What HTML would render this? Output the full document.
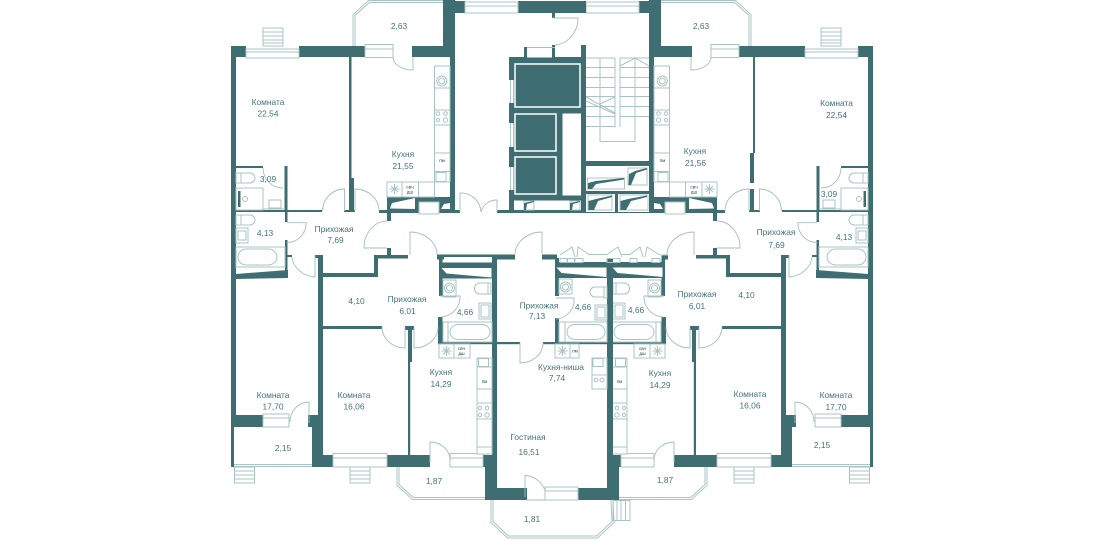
<!DOCTYPE html>
<html lang="ru"><head><meta charset="utf-8"><title>План этажа</title>
<style>
html,body{margin:0;padding:0;background:#fff;width:1105px;height:540px;overflow:hidden}
svg{display:block}
.w{fill:#3f6e72}
.l{fill:none;stroke:#a9c4c4;stroke-width:1}
.f{fill:#fff;stroke:#a9c4c4;stroke-width:1}
.d{fill:none;stroke:#a3bfbf;stroke-width:.9}
.b{fill:none;stroke:#a9c4c4;stroke-width:3}
.bi{fill:none;stroke:#fff;stroke-width:1}
text{font-family:"Liberation Sans","Noto Sans CJK JP",sans-serif;font-size:8.4px;fill:#44737a;text-anchor:middle}
.s{font-size:3.6px;font-weight:bold}
</style></head><body>
<svg width="1105" height="540" viewBox="0 0 1105 540" xmlns="http://www.w3.org/2000/svg">
<defs>
<g id="half">
<!-- walls -->
<g class="w">
<rect x="231" y="46" width="15" height="11"/><rect x="299" y="46" width="66" height="11"/><rect x="412" y="46" width="38" height="11"/>
<rect x="231" y="46" width="5" height="369"/><rect x="231" y="415" width="32" height="12"/><rect x="231" y="427" width="3" height="40"/>
<rect x="236" y="210" width="86" height="2"/><rect x="344" y="210" width="11" height="2"/>
<rect x="379" y="210" width="12" height="3"/><rect x="387" y="197" width="68" height="13"/><rect x="387" y="212" width="4" height="9"/>
<rect x="391" y="210" width="69" height="3"/><rect x="450" y="46" width="5" height="167"/>
<rect x="443" y="0" width="12" height="46"/><rect x="443" y="1" width="22" height="12"/><rect x="518" y="1" width="35" height="12"/>
<rect x="387" y="248" width="4" height="7"/><rect x="375" y="255" width="33" height="3.5"/><rect x="374" y="255" width="4" height="22"/>
<rect x="323" y="273" width="55" height="4"/><rect x="318" y="255" width="5" height="212"/><rect x="315" y="255" width="8" height="3"/>
<rect x="308" y="415" width="15" height="12"/><rect x="312" y="427" width="11" height="40"/>
<rect x="323" y="326" width="59" height="3"/><rect x="405" y="326" width="9" height="4"/><rect x="408" y="328" width="4" height="34"/><rect x="408" y="362" width="2.2" height="93"/>
<rect x="323" y="455" width="10" height="12"/><rect x="387" y="455" width="43" height="12"/>
<rect x="483" y="455" width="14" height="12"/><rect x="485" y="467" width="12" height="33"/><rect x="492" y="258" width="5" height="232"/><rect x="485" y="488" width="42" height="12"/>
<rect x="439" y="256" width="3.500" height="40"/><rect x="438" y="317" width="4.500" height="25"/><rect x="438" y="342" width="54" height="2.2"/>
<polygon points="236,274 288,270 288,278 236,279"/>
<rect x="285" y="240" width="2.500" height="37"/><rect x="285" y="212" width="2.500" height="10"/><rect x="285" y="255" width="7" height="2"/><rect x="284.500" y="166" width="3" height="45"/>
<rect x="236" y="166" width="27" height="2"/>
</g>
<!-- kitchen bottom shaft cutouts -->
<polygon points="390,208.500 392,203 415,198 415,209" fill="#fff"/>
<rect x="419" y="202" width="20" height="12" class="f"/>
<polygon points="441,209 444,204 450,203 450,209" fill="#fff"/>
<!-- windows -->
<path fill="#fff" d="M248 46h49v3h-49zM367 44h24v3h-24zM465 450h-0"/>
<path class="f" d="M246 49h53v9h-53zM246 52h53M365 44.500h28v13h-28zM365 49h28M263 414h26v13h-26zM263 418h26M333 453.500h54v13.500h-54zM333 458h54M450 453.500h33v13.500h-33zM450 458h33"/>
<path class="f" d="M465 2h53v11h-53zM465 6h53"/>
<!-- balconies -->
<polyline class="b" points="354,46 354,15 369,1.500 443,1.500"/><polyline class="bi" points="354,46 354,15 369,1.500 443,1.500"/>
<polyline class="b" points="398,467 398,485 413,498.500 485,498.500"/><polyline class="bi" points="398,467 398,485 413,498.500 485,498.500"/>
<path class="b" d="M234 465.500H312"/><path class="bi" d="M234 465.500H312"/>
<!-- outside stairs -->
<path class="l" d="M263 28h20v18h-20zM263 32h20M263 36h20M263 40h20M263 43h20"/>
<path class="l" d="M234.500 467h20v16h-20zM234.500 471h20M234.500 475h20M234.500 479h20"/>
<path class="l" d="M350 467h20v16h-20zM350 471h20M350 475h20M350 479h20"/>
<!-- doors -->
<path class="d" d="M413 57V70A20 13 0 0 1 393 57M344.500 211V189A22 22 0 0 0 322.500 211M355 211V189A24 22 0 0 1 379 211M287 222.700H306A19 19 0 0 1 287 242.500M263 168A20 20 0 0 0 283 188M387 248H364A23 27 0 0 1 387 221M410 255V232A27 23 0 0 1 437 255M315 255V277A25 22 0 0 1 292 257M405 327V348A23 21 0 0 1 382 327M414 327V348A24 21 0 0 0 438 327M440 296H460A20 20 0 0 1 441 317M430 463V442A20 18 0 0 1 450 460M309 423V402A19 20 0 0 0 290 422"/>
<!-- kitchen top -->
<path class="f" d="M434.500 66H450V182H434.500z"/><path class="l" d="M434.500 88H450M434.500 110H450M434.500 125H450M434.500 153H450M434.500 171.500H450"/>
<rect x="387" y="182" width="47.500" height="15" class="f"/><path class="l" d="M402 182V197M418.500 182V197"/>
<circle cx="441.700" cy="81" r="5" class="l"/><circle cx="441.700" cy="81" r="3" class="l"/>
<circle cx="438" cy="113.500" r="1.800" class="l"/><circle cx="445.500" cy="113.500" r="1.800" class="l"/><circle cx="438" cy="120" r="1.600" class="l"/><circle cx="445.500" cy="120" r="2.200" class="l"/>
<rect x="436" y="172.500" width="10" height="9" class="l"/>
<path class="l" d="M394.500 184v10M389.500 189h10M391 186l7 6M391 192l7-6"/>
<!-- bathrooms left -->
<path class="l" d="M236 173h5v10h-5zM241 173h9a5 5 0 0 1 0 10h-9M236 188h27v22h-27zM263 209h22M269 200h12v8h-12zM236 215h5v10h-5zM241 215h9a5 5 0 0 1 0 10h-9M236 228h12v15h-12zM238 231h8v9h-8zM236 247h49v20h-49zM246 249h22a9 8 0 0 1 9 8a9 8 0 0 1 -9 8h-22a8 8 0 0 1 -8 -8a8 8 0 0 1 8 -8z"/>
<rect x="238" y="191" width="2.500" height="16" class="w"/><circle cx="245" cy="199" r="2.500" class="l"/>
<!-- kitchen lower -->
<path class="f" d="M439 344H470V358H439zM477 358H492V454H477z"/>
<path class="l" d="M454 344V358M477 367H492M477 389H492M477 403H492M477 419H492M477 447H492M477 454H483M477 358V454"/>
<rect x="478.500" y="358.500" width="10" height="8" class="l"/>
<circle cx="480" cy="408" r="1.600" class="l"/><circle cx="487" cy="408" r="1.800" class="l"/><circle cx="480" cy="415" r="1.600" class="l"/><circle cx="487" cy="415" r="2.200" class="l"/>
<path class="l" d="M446.500 346v10M441.500 351h10M443 347.500l7 7M443 354.500l7-7"/>
<!-- bath lower -->
<path class="l" d="M443 322H492V342H443zM448 322V342M458 324.500h24a8 7.500 0 0 1 8 7.500a8 7.500 0 0 1 -8 7.500h-24a8 7.500 0 0 1 -8 -7.500a8 7.500 0 0 1 8 -7.500zM488 283h3v11h-3zM488 283h-8a5.500 5.500 0 0 0 0 11h8M443 280h13v17h-13zM479 303h12v16h-12zM481 305h8v12h-8z"/>
<circle cx="449.500" cy="288" r="5" class="l"/><circle cx="449.500" cy="288" r="3" class="l"/>
</g>
<g id="wedge"><rect x="0" y="0" width="52" height="16" class="w"/><polygon points="0,5.500 50,5.500 50,15 5,11" fill="#fff"/></g>
</defs>

<use href="#half"/>
<use href="#half" transform="translate(1104,0) scale(-1,1)"/>

<!-- corridor / central walls -->
<g class="w">
<rect x="349" y="57" width="2.500" height="121"/><rect x="349" y="178" width="5" height="34"/>
<rect x="753" y="57" width="2" height="96"/><rect x="750" y="153" width="4" height="30"/><rect x="750" y="189" width="4" height="23"/>
<rect x="497" y="210" width="150" height="3"/>
<rect x="437" y="254.500" width="78" height="5"/><rect x="542" y="254.500" width="15" height="5"/><rect x="662" y="254.500" width="6" height="5"/>
<rect x="555" y="262" width="110" height="5"/><rect x="555" y="258" width="4" height="38"/><rect x="555" y="318" width="4" height="24"/>
<rect x="607" y="258" width="6" height="232"/>
<rect x="497" y="342" width="23" height="2.200"/><rect x="543" y="342" width="64" height="2.200"/>
<rect x="578" y="488" width="40" height="12"/><rect x="613" y="455" width="5" height="45"/>
<rect x="553" y="1" width="33" height="12"/>
<rect x="552" y="13" width="3" height="5"/><rect x="552" y="45" width="3" height="13"/>
<rect x="509" y="57" width="77" height="6"/><rect x="581" y="45" width="5" height="168"/>
<rect x="509" y="58" width="5" height="22"/><rect x="509" y="103" width="5" height="20"/><rect x="509" y="147" width="5" height="20"/><rect x="509" y="190" width="5" height="20"/>
<rect x="514" y="63" width="67" height="137"/>
<rect x="514" y="198" width="67" height="3"/>
<rect x="586" y="161" width="63" height="5"/><rect x="586" y="166" width="63" height="47"/>
</g>
<path d="M515 64h65v43h-65zM515 114h41v37h-41zM515 157h41v37h-41z" style="fill:#3f6e72;stroke:#fff;stroke-width:1.500"/>
<rect x="562.500" y="113.500" width="18.500" height="82" fill="#fff"/>
<rect x="514" y="200.500" width="67" height="9.500" fill="#fff"/>
<path class="d" d="M510.500 80V103M510.500 123V147M510.500 167V190M513.500 80V103M513.500 123V147M513.500 167V190"/>
<rect x="526" y="48.500" width="26" height="9" fill="#fff"/><path class="d" d="M524 47.500H555"/><rect x="524" y="47" width="3" height="11" class="w"/>
<path class="f" d="M524 201h10v9h-10zM570 201h10v9h-10z"/><polygon points="524,210 524,203 534,201 534,202 527,204 526,210" fill="#3f6e72"/><polygon points="570,210 570,203 580,201 580,202 573,204 572,210" fill="#3f6e72"/>
<path class="d" d="M553 18H578A25 27 0 0 1 555 45"/>
<rect x="460.500" y="209" width="36" height="5" fill="#fff"/>
<path class="d" d="M460 212V193A20 20 0 0 1 481 212M497 212V200A16 16 0 0 0 481 212"/>

<!-- stairs -->
<rect x="586" y="58" width="63" height="103" fill="#fff"/>
<path class="l" d="M586 58H615M586 67.500H615M586 77.500H615M586 87.500H615M586 96.500H615M586 106.500H615M586 116.500H615M586 126.500H615M600 58V141.500H635V58M615 58V127M620 58V127M620 58H649M620 67.500H649M620 77.500H649M620 87.500H649M620 96.500H649M620 106.500H649M620 116.500H649M586 97L615 113M586 101L615 114M600 104L615 97M620 66L635 58L649 66"/>

<!-- stair shafts -->
<path fill="#fff" d="M586 166h63v25h-63zM586 194h29v18h-29zM618 194h31v18h-31z"/>
<path class="l" d="M587.500 178h37v11h-37zM628 168h19v17h-19zM588 195h24v15h-24zM620 195h28v15h-28z"/>
<polygon points="588,189 588,183 596,181 624,178 624,179.500 596,184 592,189" fill="#3f6e72"/>
<polygon points="628.500,185 629,174 635,171 647,168 647,169.500 636,173 631,185" fill="#3f6e72"/>
<polygon points="588.500,210 588.500,201 596,199 612,195.500 612,197 598,201 594,210" fill="#3f6e72"/>
<polygon points="620.500,210 620.500,201 628,199 647,195.500 647,197 631,201 626,210" fill="#3f6e72"/>

<!-- bathroom top shafts -->
<rect x="444" y="257" width="48" height="5" fill="#fff"/>
<use href="#wedge" transform="translate(441.500,262.500)"/>
<use href="#wedge" transform="translate(556.500,262)"/>
<use href="#wedge" transform="translate(612.500,262)"/>
<path class="l" d="M560 255L572 247L575 257M577 257L578 247L589 254.500H607L618 247L622 257M622 254.500H630L640 247L643 257M645 257L647 247L660 255H668"/>
<path class="l" d="M560 258.500h7v4h-7zM567.500 258.500h7v4h-7zM575 258.500h8v4h-8zM607 258.500h13v4h-13zM630 258.500h7v4h-7zM652 258.500h8v4h-8z"/>
<path class="d" d="M556 298H574A19 19 0 0 1 556 319"/>
<!-- studio bathroom -->
<path class="l" d="M559 322H607V342H559zM565 322V342M575 324.500h22a8 7.500 0 0 1 8 7.500a8 7.500 0 0 1 -8 7.500h-22a8 7.500 0 0 1 -8 -7.500a8 7.500 0 0 1 8 -7.500zM604 287h3v11h-3zM604 287h-9a5 5 0 0 0 0 10h9M559 279h13v15h-13zM595 305h12v15h-12zM597 307h8v11h-8z"/>
<circle cx="565.500" cy="287" r="5" class="l"/><circle cx="565.500" cy="287" r="3" class="l"/>
<!-- studio kitchen -->
<path class="f" d="M555 344H579V358H555zM592 358H607V389H592z"/>
<path class="l" d="M570 344V358M592 375H607"/>
<rect x="593" y="358.500" width="10" height="8" class="l"/>
<circle cx="596" cy="380" r="1.800" class="l"/><circle cx="602" cy="380" r="2" class="l"/>
<path class="l" d="M562.500 346v10M557.500 351h10M559 347.500l7 7M559 354.500l7-7"/>
<!-- entry & balcony doors -->
<path class="d" d="M542 254V232A27 23 0 0 0 515 254M520 343V363A23 20 0 0 0 543 343M527 500H546M525 475.500V497M525 475.500A22 22 0 0 1 546 496"/>
<path class="f" d="M545 487h33v13h-33zM545 491h33"/>
<!-- centre balcony -->
<polyline class="b" points="492,500 492,522 508,537 597,537 613,522 612,500"/><polyline class="bi" points="492,500 492,522 508,537 597,537 613,522 612,500"/>
<path class="l" d="M613 500.500h17v20h-17zM617 500.500v20M621 500.500v20M625.500 500.500v20"/>

<!-- labels -->
<text x="268" y="105">Комната</text><text x="268" y="116.500">22,54</text>
<text x="399" y="29">2,63</text>
<text x="403" y="157">Кухня</text><text x="403" y="169">21,55</text>
<text x="268" y="182">3,09</text><text x="265" y="236">4,13</text>
<text x="334" y="232">Прихожая</text><text x="335.500" y="243">7,69</text>
<text x="701" y="29">2,63</text>
<text x="695" y="154">Кухня</text><text x="695.500" y="166">21,56</text>
<text x="836.500" y="106">Комната</text><text x="836.500" y="118">22,54</text>
<text x="829" y="197">3,09</text><text x="844" y="240">4,13</text>
<text x="776" y="235">Прихожая</text><text x="776.500" y="248">7,69</text>
<text x="356.500" y="304">4,10</text>
<text x="407" y="302">Прихожая</text><text x="407.500" y="314">6,01</text>
<text x="465" y="315">4,66</text>
<text x="441" y="375">Кухня</text><text x="441" y="387">14,29</text>
<text x="273" y="398">Комната</text><text x="273" y="409.500">17,70</text>
<text x="354" y="398">Комната</text><text x="354" y="409.500">16,06</text>
<text x="283" y="451">2,15</text><text x="434" y="484">1,87</text>
<text x="528" y="440">Гостиная</text><text x="529" y="455">16,51</text>
<text x="532" y="522">1,81</text>
<text x="539" y="308.500">Прихожая</text><text x="537" y="319">7,13</text>
<text x="583" y="310">4,66</text><text x="636" y="313">4,66</text>
<text x="561" y="370">Кухня-ниша</text><text x="557" y="381">7,74</text>
<text x="697" y="297">Прихожая</text><text x="697" y="309">6,01</text>
<text x="746.500" y="298">4,10</text>
<text x="660" y="376">Кухня</text><text x="660" y="388">14,29</text>
<text x="750" y="397">Комната</text><text x="750" y="408.500">16,06</text>
<text x="836" y="398">Комната</text><text x="836" y="410">17,70</text>
<text x="822" y="448">2,15</text><text x="665" y="483">1,87</text>
<!-- small fixture labels -->
<text class="s" x="442" y="162">ПМ</text><text class="s" x="662.500" y="162">ПМ</text>
<text class="s" x="410" y="188.500">СВЧ</text><text class="s" x="410" y="193.500">ДШ</text>
<text class="s" x="694" y="188.500">СВЧ</text><text class="s" x="694" y="193.500">ДШ</text>
<text class="s" x="461.500" y="350">СВЧ</text><text class="s" x="461.500" y="355">ДШ</text>
<text class="s" x="642.500" y="350">СВЧ</text><text class="s" x="642.500" y="355">ДШ</text>
<text class="s" x="484.500" y="383">ПМ</text><text class="s" x="619.500" y="383">ПМ</text>
<text class="s" x="575" y="352.500">ПМ</text>
</svg>
</body></html>
